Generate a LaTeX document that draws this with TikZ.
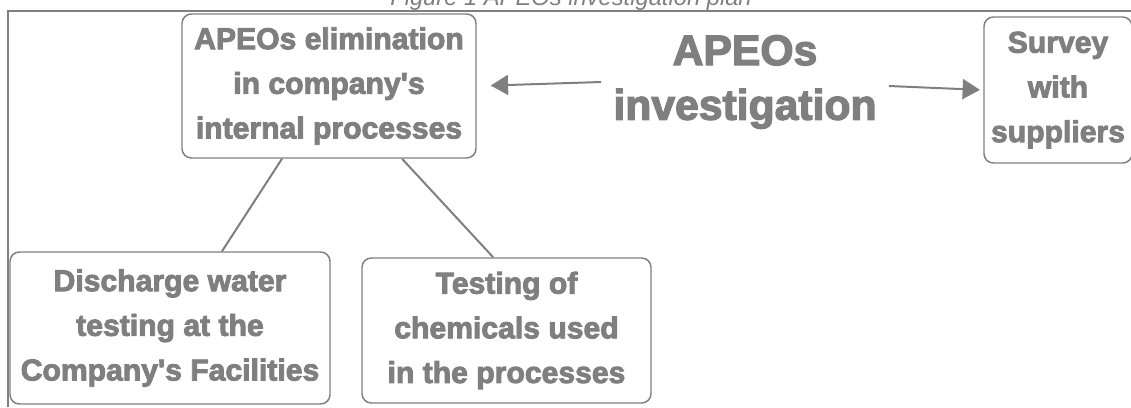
\documentclass[tikz,border=0pt]{standalone}
\usepackage{fontspec}
\setmainfont{Liberation Sans}
\newfontfamily\heavyfont{Liberation Sans Bold}[FakeBold=3]
\usetikzlibrary{arrows.meta}
\definecolor{plangray}{HTML}{7F7F7F}

\tikzset{
  planbox/.style={draw=plangray, line width=1.1pt, rounded corners=7pt, align=center,
    text=plangray, inner sep=0pt, font=\heavyfont\fontsize{22.6}{33.5}\selectfont},
  planlink/.style={draw=plangray, line width=1.5pt},
  planarrow/.style={planlink, -{Triangle[length=13pt,width=15pt]}}
}

\begin{document}
\begin{tikzpicture}[x=0.75pt,y=0.75pt]
        \useasboundingbox (0,0) rectangle (1131,-407);
        % page frame and the caption cut at the top
        \draw[plangray, line width=1.5pt] (8,-407) -- (8,-11) -- (1131,-11);
        \node[anchor=base, text=plangray, font=\itshape\fontsize{17.8}{20}\selectfont] (caption) at (571,-5) {Figure 1 APEOs investigation plan};

        \node[text=plangray, align=center, inner sep=9pt, font=\heavyfont\fontsize{32}{41}\selectfont] (inv) at (745,-82) {APEOs\\investigation};
        \node[planbox, minimum width=220.5pt, minimum height=108pt] (elim) at (329,-86) {APEOs elimination\\in company\textquotesingle s\\internal processes};
        \node[planbox, minimum width=111pt, minimum height=109.5pt] (survey) at (1058,-90) {Survey\\with\\suppliers};
        \node[planbox, minimum width=240pt, minimum height=114pt] (water) at (170,-328) {Discharge water\\testing at the\\Company\textquotesingle s Facilities};
        \node[planbox, minimum width=216.75pt, minimum height=108.75pt] (chem) at (506.5,-330.5) {Testing of\\chemicals used\\in the processes};

        \draw[planarrow, shorten >=10.5pt] (inv.west) -- (elim.east);
        \draw[planarrow, shorten >=2.5pt] ([yshift=-3pt]inv.east) -- (survey.west);
        \draw[planlink] ([xshift=-35.25pt]elim.south) -- ([xshift=39pt]water.north);
        \draw[planlink] ([xshift=54.75pt]elim.south) -- ([xshift=-10pt]chem.north);
\end{tikzpicture}
\end{document}
